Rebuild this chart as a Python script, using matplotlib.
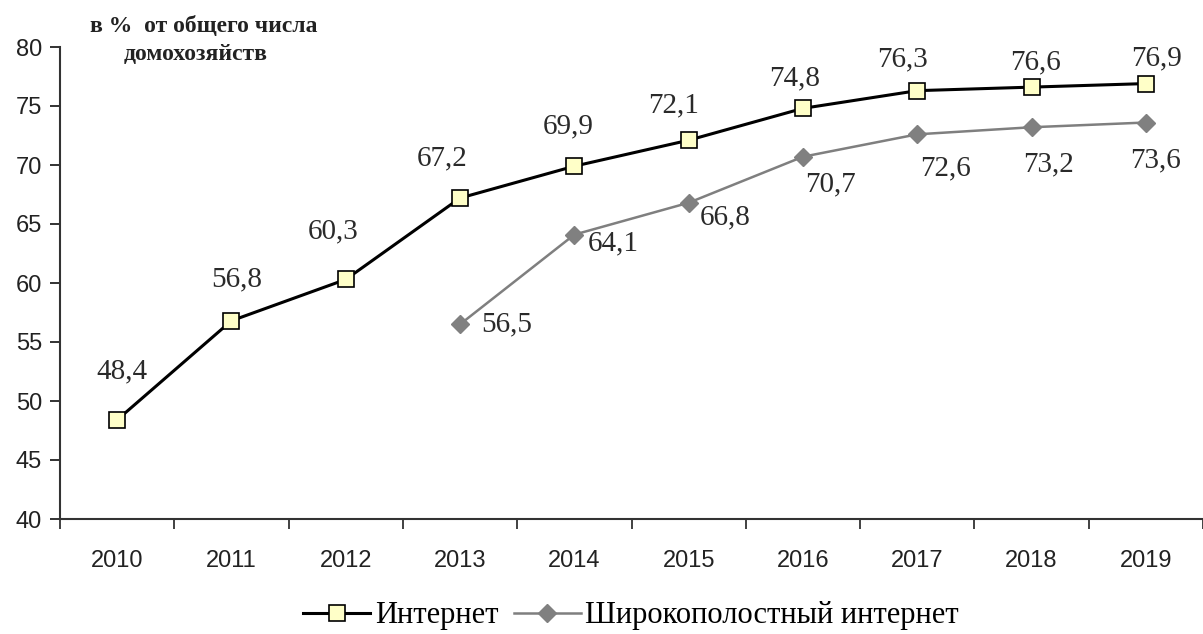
import numpy as np
import matplotlib.pyplot as plt

plt.rcParams["font.family"] = ["Liberation Sans", "DejaVu Sans"]

years = ["2010", "2011", "2012", "2013", "2014", "2015", "2016", "2017", "2018", "2019"]
internet = [48.4, 56.8, 60.3, 67.2, 69.9, 72.1, 74.8, 76.3, 76.6, 76.9]
broadband_years = ["2013", "2014", "2015", "2016", "2017", "2018", "2019"]
broadband = [56.5, 64.1, 66.8, 70.7, 72.6, 73.2, 73.6]

# label offsets in pixels (dx, dy)
inet_off = [(5, 49), (5, 41), (-13, 48), (-18, 40), (-6, 40), (-15, 35), (-8, 30), (-15, 31), (4, 25), (11, 25)]
bb_off = [(47, 0), (39, -9), (37, -15), (28, -28), (28, -34), (17, -37), (10, -38)]

fig = plt.figure(figsize=(12.03, 6.34), dpi=100)
ax = fig.add_axes([60 / 1203, 1 - 519 / 634, 1 - 60 / 1203, (519 - 47) / 634])

x = np.arange(len(years))
xb = np.array([years.index(y) for y in broadband_years])

ax.plot(x, internet, color="black", linewidth=2.2, marker="s", markersize=11,
        markerfacecolor="#FFFFC8", markeredgecolor="black", markeredgewidth=1.2,
        label="Интернет", zorder=3)
ax.plot(xb, broadband, color="#7f7f7f", linewidth=1.8, marker="D", markersize=9,
        markerfacecolor="#808080", markeredgecolor="#808080",
        label="Широкополостный интернет", zorder=3)

def fmt(v):
    return ("%.1f" % v).replace(".", ",")

for xi, v, (dx, dy) in zip(x, internet, inet_off):
    ax.annotate(fmt(v), (xi, v), xytext=(dx, dy), textcoords="offset pixels",
                ha="center", va="center", fontsize=21, family="Liberation Serif", color="#2a2a2a")
for xi, v, (dx, dy) in zip(xb, broadband, bb_off):
    ax.annotate(fmt(v), (xi, v), xytext=(dx, dy), textcoords="offset pixels",
                ha="center", va="center", fontsize=21, family="Liberation Serif", color="#2a2a2a")

ax.set_xlim(-0.5, 9.5)
ax.set_ylim(40, 80)
ax.set_yticks(np.arange(40, 81, 5))
ax.set_xticks(x)
ax.set_xticklabels(years)
ax.set_xticks(np.arange(-0.5, 9.6, 1), minor=True)
ax.tick_params(axis="x", which="major", length=0, pad=22, labelsize=17, colors="#222222")
ax.tick_params(axis="x", which="minor", length=7, direction="out", width=1.3, color="#333333")
ax.tick_params(axis="y", length=7, width=1.3, labelsize=17, pad=6, colors="#222222")

for s in ["top", "right"]:
    ax.spines[s].set_visible(False)
for s in ["left", "bottom"]:
    ax.spines[s].set_linewidth(1.5)
    ax.spines[s].set_color("#333333")

fig.text(204 / 1203, 1 - 27 / 634, "в %  от общего числа", ha="center", va="center",
         fontsize=17, fontweight="bold", family="Liberation Serif", color="#222222")
fig.text(196 / 1203, 1 - 54 / 634, "домохозяйств", ha="center", va="center",
         fontsize=17, fontweight="bold", family="Liberation Serif", color="#222222")

fig.legend(loc="center", bbox_to_anchor=(631 / 1203, 1 - 616 / 634), ncol=2, frameon=False,
           prop={"family": "Liberation Serif", "size": 22}, handlelength=2.2,
           handletextpad=0.15, columnspacing=0.5, borderaxespad=0)

fig.savefig("out.png", dpi=100)
